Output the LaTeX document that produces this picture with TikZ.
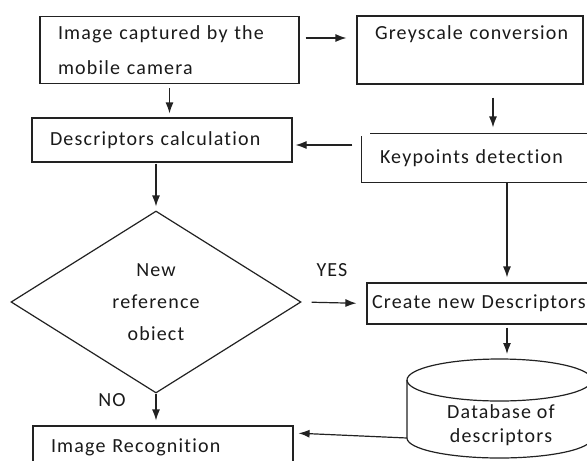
\documentclass[tikz,border=0pt]{standalone}
\usepackage{fontspec}
\setmainfont{Carlito}[LetterSpace=6,Ligatures=CommonOff]
\usetikzlibrary{arrows.meta,shapes.geometric}
\definecolor{lc}{HTML}{222222}
\definecolor{tc}{HTML}{1A1A1A}
\newcommand\flowfont{\fontsize{20}{35}\selectfont}
\begin{document}
\begin{tikzpicture}[x=1pt,y=-1pt,font=\flowfont,
  box/.style={draw=lc, line width=1.2pt, inner xsep=18pt, inner ysep=0pt, align=left, text=tc},
  txt/.style={text=tc, inner sep=0pt},
  edge/.style={draw=lc, line width=1.2pt},
  arr/.style={draw=lc, line width=1.2pt, -{Latex[length=11pt,width=8pt]}}]
\clip (0,0) rectangle (587,461);
\fill[white] (0,0) rectangle (587,461);

% boxes
\node[box, text width=223pt, minimum height=67pt] (img) at (169.5,50) {\mbox{Image captured by the}\\\mbox{mobile camera}};
\node[box, text width=190pt, minimum height=68pt] (grey) at (470,50) {\mbox{Greyscale conversion}\\\mbox{}};
\node[box, draw=none, text width=194pt, minimum height=48pt] (kp) at (477,158) {\mbox{Keypoints detection}};
\node[box, text width=224pt, minimum height=44pt] (desc) at (162,140) {\mbox{Descriptors calculation}};
\node[box, inner xsep=5pt, text width=225pt, minimum height=41pt] (create) at (484.5,303.5) {\mbox{Create new Descriptors}};
\node[box, text width=224pt, minimum height=42pt] (recog) at (163,447) {\mbox{Image Recognition}};
\node[diamond, draw=lc, line width=1.2pt, text=tc, minimum width=290pt, minimum height=182pt, inner sep=0pt, align=center, font=\fontsize{20}{32}\selectfont] (dec) at (156,302) {New\\reference\\obiect};

% keypoints box outline (top line starts a little to the right)
\draw[edge] ([xshift=9pt]kp.north west) -- (kp.north east);
\draw[edge] ([yshift=-3pt]kp.north west) -- (kp.south west) -- (kp.south east);

% database cylinder
\draw[edge] (499.5,380) ellipse [x radius=92.5pt, y radius=21pt];
\draw[edge] (407,380) -- (407,438) arc[start angle=180, end angle=360, x radius=92.5pt, y radius=20pt] -- (592,380);
\node[txt, align=center, font=\fontsize{20}{24}\selectfont] (db) at (501,425) {Database of\\descriptors};
\coordinate (dbtop) at (507,359);
\coordinate (dbleft) at (407,438);

% labels
\node[txt] (yes) at (332,270) {YES};
\node[txt] (no) at (112,400) {NO};

% connectors
\draw[arr, shorten <=6pt, shorten >=10pt] ([yshift=12pt]img.east) -- ([yshift=12pt]img.east -| grey.west);
\draw[arr, shorten <=4pt, shorten >=4pt] (img.south) -- (img.south |- desc.north);
\draw[arr, shorten <=1pt, shorten >=4pt] (desc.south -| dec.north) -- (dec.north);
\draw[arr, shorten <=13pt, shorten >=6pt] ([xshift=23pt]grey.south) -- ([xshift=23pt]grey.south |- kp.north);
\draw[arr, shorten <=9pt, shorten >=3pt] ([yshift=13pt]kp.west) -- ([yshift=13pt]kp.west -| desc.east);
\draw[arr, shorten <=10pt, shorten >=10pt] (dec.east) -- (create.west);
\draw[arr, shorten >=5pt] (dec.south) -- (dec.south |- recog.north);
\draw[arr, shorten >=5pt] (kp.south -| dbtop) -- (create.north -| dbtop);
\draw[arr, shorten <=3pt, shorten >=5pt] (create.south -| dbtop) -- (dbtop);
\draw[arr, shorten >=5pt] (dbleft) -- ([yshift=14pt]recog.east);
\end{tikzpicture}
\end{document}
